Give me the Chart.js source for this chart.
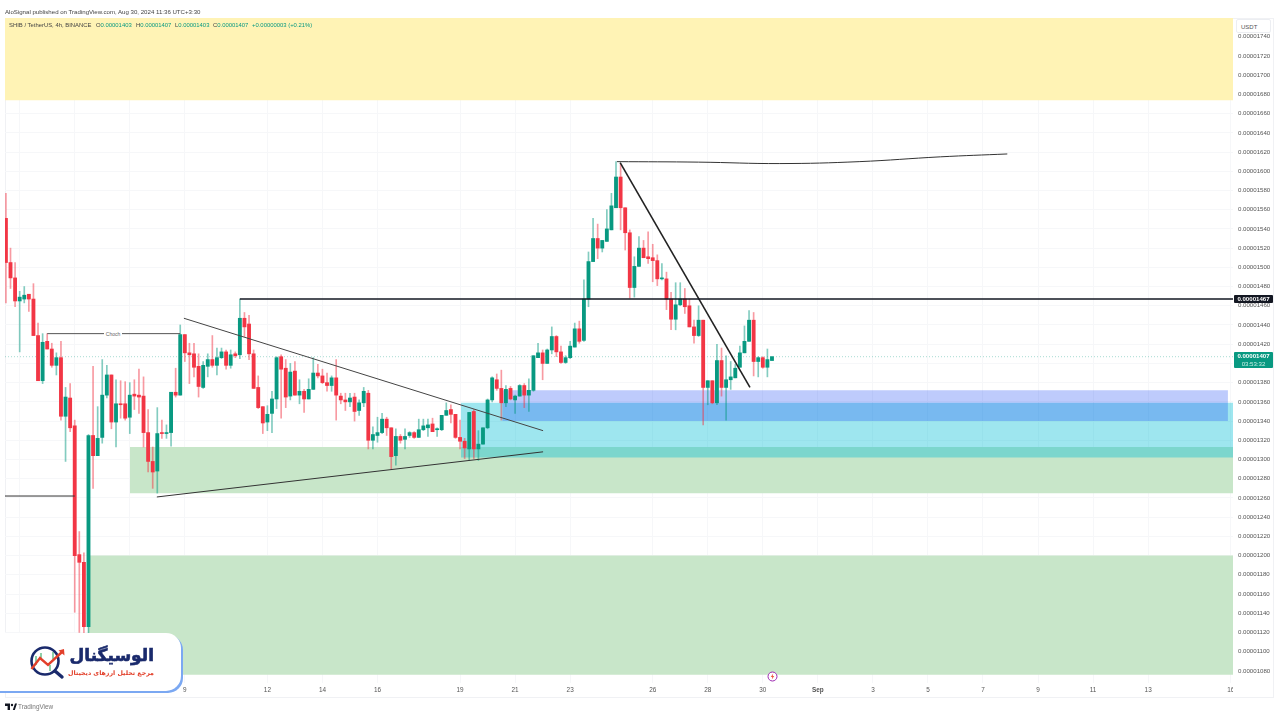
<!DOCTYPE html>
<html lang="en">
<head>
<meta charset="UTF-8">
<title>SHIB / TetherUS 4h</title>
<script src="https://cdn.jsdelivr.net/npm/chart.js"></script>
<style>
    body { margin: 0; background: #fff; font-family: "Liberation Sans", Arial, sans-serif; }
    #wrap { position: relative; width: 1280px; height: 720px; overflow: hidden; }
    #frame { position: absolute; left: 5px; top: 18px; width: 1267px; height: 678px; border: 1px solid #f0f1f4; }
    canvas { position: absolute; left: 0; top: 0; }
    .abs { position: absolute; white-space: nowrap; }
    #published { left: 5px; top: 8px; font-size: 6.1px; color: #444; }
    .legend { top: 22px; font-size: 5.9px; color: #444; }
    .legend b { font-weight: normal; color: #089981; }
    #choch { left: 104px; top: 331px; width: 18px; text-align: center; background: #fff; font-size: 5px; color: #666; line-height: 6px; }
    #usdt { left: 1236px; top: 19px; width: 35px; height: 14px; background: #fff; border: 1px solid #eceef2; border-radius: 2px; font-size: 6px; color: #555; line-height: 14px; box-sizing: border-box; padding-left: 4px; }
    #corner { left: 1233px; top: 684px; width: 40px; height: 12px; background: #fff; }
    .tag { left: 1234px; width: 39px; color: #fff; font-size: 6.1px; text-align: center; border-radius: 1px; }
    #tagLevel { top: 295px; height: 8px; line-height: 8px; background: #131722; font-weight: bold; }
    #tagLast { top: 352px; height: 16px; line-height: 8px; background: #089981; font-weight: bold; }
    #tagLast span { font-weight: normal; color: #c9efe6; display: block; }
    #bolt { left: 767px; top: 671px; }
    #logoBox { left: -6px; top: 633px; width: 187px; height: 58px; background: #fff; border-radius: 0 15px 15px 0; box-shadow: 2px 2px 0 #7ba8f2; }
    #logoIcon { left: 28px; top: 644px; }
    #logoName { left: 68px; top: 643px; width: 86px; text-align: right; direction: rtl; font: bold 17px "DejaVu Sans", sans-serif; color: #1a2a6c; line-height: 24px; -webkit-text-stroke: 0.6px #1a2a6c; }
    #logoSub { left: 66px; top: 667px; width: 88px; text-align: right; direction: rtl; font: bold 6.3px "DejaVu Sans", sans-serif; color: #e2402b; line-height: 11px; }
    #tvMark { left: 5px; top: 703px; }
    #tvText { left: 18px; top: 703px; font-size: 6.4px; color: #777; line-height: 8px; }
</style>
</head>
<body>
<div id="wrap">
    <div id="frame"></div>
    <canvas id="chart" width="1280" height="720"></canvas>

    <div class="abs" id="published">AloSignal published on TradingView.com, Aug 30, 2024 11:36 UTC+3:30</div>
    <div class="abs legend" style="left:9px">SHIB / TetherUS, 4h, BINANCE</div>
    <div class="abs legend" style="left:96px">O<b>0.00001403</b></div>
    <div class="abs legend" style="left:136px">H<b>0.00001407</b></div>
    <div class="abs legend" style="left:175px">L<b>0.00001403</b></div>
    <div class="abs legend" style="left:213px">C<b>0.00001407</b></div>
    <div class="abs legend" style="left:252px"><b>+0.00000003 (+0.21%)</b></div>

    <div class="abs" id="choch">Choch</div>
    <div class="abs" id="usdt">USDT</div>
    <div class="abs" id="corner"></div>
    <div class="abs tag" id="tagLevel">0.00001467</div>
    <div class="abs tag" id="tagLast">0.00001407<span>03:53:32</span></div>

    <svg class="abs" id="bolt" width="11" height="11" viewBox="0 0 11 11">
        <circle cx="5.5" cy="5.5" r="4.5" fill="#fff" stroke="#9c27b0" stroke-width="1"/>
        <path d="M6.2 2.5 L3.8 6 H5.3 L4.8 8.5 L7.2 5 H5.7 Z" fill="#f0503c"/>
    </svg>

    <div class="abs" id="logoBox"></div>
    <svg class="abs" id="logoIcon" width="40" height="38" viewBox="0 0 40 38">
        <path d="M8 12v9M13 9v6M22 21v6M25 8v7" stroke="#8fd0a8" stroke-width="2" fill="none"/>
        <circle cx="17" cy="17" r="13.5" fill="none" stroke="#1a2a6c" stroke-width="2.6"/>
        <path d="M27 27 L34 33" stroke="#1a2a6c" stroke-width="3.4" stroke-linecap="round"/>
        <path d="M3.5 25 L12 14 L20 21 L34 8" fill="none" stroke="#e2402b" stroke-width="2.4"/>
        <path d="M36 5 L36.5 11.5 L30.5 6.5 Z" fill="#e2402b"/>
    </svg>
    <div class="abs" id="logoName">الوسیگنال</div>
    <div class="abs" id="logoSub">مرجع تحلیل ارزهای دیجیتال</div>

    <svg class="abs" id="tvMark" width="12" height="8" viewBox="0 0 12 8">
        <path d="M0 0.5H5V7H2.6V3H0Z M7.8 7L10 0.5H12L9.8 7Z" fill="#131722"/>
        <circle cx="7" cy="2" r="1.2" fill="#131722"/>
    </svg>
    <div class="abs" id="tvText">TradingView</div>
</div>

<script>
    // Prices are in units of 0.00000001 USDT, candles are counted from the left edge (4h each)
    const candleOpen = [
        1551,1505,1489,1465,1467,1472,1467,1429,1382,1423,
        1415,1398,1406,1345,1364,1335,1201,1193,1126,1325,
        1304,1323,1367,1388,1339,1358,1358,1344,1368,1367,
        1366,1328,1298,1288,1328,1327,1328,1370,1367,1430,
        1411,1410,1397,1375,1397,1404,1398,1406,1412,1398,
        1410,1409,1447,1441,1410,1375,1355,1339,1348,1363,
        1407,1395,1366,1392,1367,1371,1363,1373,1390,1387,
        1380,1377,1385,1366,1362,1360,1365,1351,1359,1369,
        1320,1325,1328,1342,1333,1304,1324,1321,1325,1328,
        1323,1331,1333,1337,1331,1331,1346,1352,1347,1323,
        1319,1311,1350,1311,1316,1333,1362,1383,1374,1359,
        1374,1362,1366,1377,1367,1372,1406,1411,1400,1414,
        1428,1412,1401,1406,1417,1436,1424,1467,1506,1530,
        1520,1527,1539,1562,1594,1562,1536,1479,1501,1520,
        1511,1510,1507,1488,1488,1467,1446,1461,1467,1460,
        1438,1429,1445,1375,1382,1359,1403,1375,1383,1385,
        1396,1411,1423,1445,1402,1406,1396,1403
    ];
    const candleClose = [
        1505,1489,1465,1469,1471,1467,1429,1382,1422,1415,
        1398,1406,1345,1365,1333,1200,1193,1126,1325,1304,
        1322,1367,1388,1339,1358,1357,1343,1367,1366,1365,
        1328,1298,1287,1327,1327,1328,1370,1367,1430,1411,
        1409,1396,1376,1398,1404,1398,1406,1412,1398,1409,
        1408,1447,1438,1410,1374,1354,1338,1347,1363,1406,
        1394,1365,1391,1367,1371,1363,1373,1390,1387,1380,
        1377,1385,1367,1362,1360,1364,1350,1359,1371,1320,
        1326,1328,1342,1333,1303,1324,1320,1324,1328,1323,
        1331,1335,1336,1329,1332,1346,1351,1347,1323,1319,
        1312,1349,1311,1316,1333,1362,1385,1374,1359,1373,
        1363,1366,1377,1367,1372,1408,1411,1400,1414,1428,
        1412,1401,1406,1418,1436,1423,1467,1506,1530,1520,
        1528,1540,1564,1594,1562,1536,1479,1501,1520,1510,
        1509,1507,1488,1489,1467,1446,1461,1467,1459,1438,
        1429,1445,1375,1382,1359,1403,1375,1383,1386,1395,
        1411,1423,1445,1402,1406,1396,1404,1407
    ];
    const candleHigh = [
        1577,1520,1505,1475,1480,1472,1483,1442,1431,1431,
        1421,1411,1423,1375,1379,1341,1225,1203,1326,1397,
        1355,1404,1398,1388,1383,1382,1381,1380,1383,1394,
        1386,1352,1313,1354,1341,1336,1370,1395,1440,1430,
        1421,1421,1410,1402,1410,1429,1416,1416,1414,1414,
        1412,1467,1453,1450,1414,1387,1355,1356,1371,1407,
        1409,1404,1400,1402,1383,1373,1384,1406,1399,1394,
        1390,1387,1404,1369,1369,1369,1369,1362,1375,1372,
        1334,1344,1348,1344,1333,1332,1326,1332,1329,1329,
        1342,1342,1342,1343,1333,1346,1359,1357,1347,1341,
        1322,1349,1352,1330,1333,1363,1386,1389,1393,1377,
        1376,1367,1378,1379,1384,1408,1421,1414,1415,1438,
        1429,1418,1408,1423,1442,1444,1487,1516,1551,1545,
        1528,1560,1577,1610,1607,1562,1539,1511,1532,1528,
        1537,1524,1513,1504,1495,1474,1484,1484,1478,1467,
        1445,1460,1445,1382,1382,1420,1416,1408,1402,1399,
        1418,1439,1455,1453,1407,1407,1415,1407
    ];
    const candleLow = [
        1463,1478,1459,1412,1463,1454,1429,1382,1379,1415,
        1396,1388,1341,1298,1329,1141,1120,1115,1118,1270,
        1304,1317,1364,1332,1313,1343,1341,1327,1352,1348,
        1313,1287,1270,1265,1322,1322,1314,1365,1367,1402,
        1379,1386,1365,1374,1386,1396,1388,1405,1394,1395,
        1406,1405,1428,1404,1374,1353,1327,1330,1328,1353,
        1343,1354,1362,1367,1358,1349,1363,1373,1385,1379,
        1371,1371,1341,1358,1351,1355,1340,1346,1355,1311,
        1311,1318,1327,1325,1290,1294,1317,1311,1323,1322,
        1323,1330,1324,1329,1324,1330,1346,1338,1322,1311,
        1301,1299,1301,1299,1316,1332,1360,1372,1341,1355,
        1362,1348,1366,1354,1350,1371,1406,1383,1400,1410,
        1407,1400,1400,1405,1417,1421,1423,1459,1506,1509,
        1516,1527,1539,1562,1539,1518,1468,1469,1501,1510,
        1504,1485,1481,1487,1456,1435,1435,1460,1452,1438,
        1421,1428,1336,1357,1358,1357,1366,1341,1373,1385,
        1396,1411,1423,1387,1386,1395,1386,1403
    ];

    const tickIndex = [3,15,27,39,57,69,81,99,111,123,141,153,165,177,189,201,213,225,237,249,267];
    const tickLabels = ['3','5','7','9','12','14','16','19','21','23','26','28','30','Sep','3','5','7','9','11','13','16'];

    // Shaded zones: first candle, last candle, top price, bottom price
    const zoneSupply = [-0.2, 267.5, 1760, 1674];
    const zoneGreenUpper = [27.05, 267.5, 1313, 1265];
    const zoneGreenLower = [17.9, 267.5, 1200, 1076];
    const zoneCyan = [99.2, 267.5, 1359, 1302];
    const zoneBlue = [108.2, 266.4, 1372, 1340];

    // Drawn lines: [candle, price] points
    const levelLine = [[51, 1467], [267.5, 1467]];
    const chochLine = [[9, 1431], [38, 1431]];
    const leftLine = [[-0.2, 1262], [15, 1262]];
    const fallingLine = [[38.8, 1447], [117.1, 1330]];
    const risingLine = [[32.9, 1261], [117.1, 1308]];
    const steepLine = [[133.9, 1609], [162.2, 1375]];
    const curveLine = [[133.2, 1610], [151, 1609.5], [168.7, 1608], [186, 1610], [203.7, 1615], [218.3, 1618]];
    const lastPrice = [[-0.2, 1407], [267.5, 1407]];

    const upColor = '#089981';
    const downColor = '#f23645';

    // higher order is painted first, so green sits under cyan and cyan under blue
    const zoneDataset = (zone, color, order) => ({
        type: 'line',
        data: [{x: zone[0], y: zone[2]}, {x: zone[1], y: zone[2]}],
        borderWidth: 0,
        pointRadius: 0,
        backgroundColor: color,
        fill: {value: zone[3]},
        order: order
    });

    const lineDataset = (points, color, width, extra) => Object.assign({
        type: 'line',
        data: points.map(p => ({x: p[0], y: p[1]})),
        borderColor: color,
        borderWidth: width,
        pointRadius: 0,
        fill: false,
        order: 1
    }, extra);

    const isUp = i => candleClose[i] >= candleOpen[i];

    new Chart(document.getElementById('chart').getContext('2d'), {
        type: 'bar',
        data: {
            datasets: [
                zoneDataset(zoneSupply, '#fff3b5', 14),
                zoneDataset(zoneGreenUpper, '#c8e6c9', 14),
                zoneDataset(zoneGreenLower, '#c8e6c9', 14),
                zoneDataset(zoneCyan, 'rgba(0, 188, 212, 0.38)', 12),
                zoneDataset(zoneBlue, 'rgba(20, 70, 245, 0.28)', 11),
                {
                    // wicks
                    data: candleLow.map((low, i) => ({x: i, y: [low, candleHigh[i]]})),
                    backgroundColor: candleLow.map((low, i) => isUp(i) ? 'rgba(8, 153, 129, 0.5)' : 'rgba(242, 54, 69, 0.5)'),
                    barThickness: 1,
                    grouped: false,
                    order: 5
                },
                {
                    // bodies
                    data: candleOpen.map((open, i) => ({x: i, y: [open, candleClose[i]]})),
                    backgroundColor: candleOpen.map((open, i) => isUp(i) ? upColor : downColor),
                    barThickness: 3.2,
                    minBarLength: 1,
                    grouped: false,
                    order: 4
                },
                lineDataset(lastPrice, 'rgba(8, 153, 129, 0.35)', 1, {borderDash: [1, 2], order: 6}),
                lineDataset(levelLine, '#131722', 1.6),
                lineDataset(chochLine, '#555', 1),
                lineDataset(leftLine, '#333', 1),
                lineDataset(fallingLine, '#444', 1),
                lineDataset(risingLine, '#333', 1),
                lineDataset(steepLine, '#222', 1.6),
                lineDataset(curveLine, '#333', 1, {tension: 0.4})
            ]
        },
        options: {
            responsive: false,
            animation: false,
            layout: {padding: {left: 5, top: 18}},
            plugins: {legend: {display: false}, tooltip: {enabled: false}},
            scales: {
                x: {
                    type: 'linear',
                    min: -0.2,
                    max: 267.5,
                    offset: false,
                    grid: {offset: false, color: '#f6f7f9', drawTicks: false},
                    border: {display: false},
                    afterFit: scale => { scale.height = 37; },
                    afterBuildTicks: scale => { scale.ticks = tickIndex.map(v => ({value: v})); },
                    ticks: {
                        autoSkip: false,
                        maxRotation: 0,
                        padding: 3,
                        color: '#555',
                        font: ctx => ({size: 6.4, weight: ctx.tick && ctx.tick.label === 'Sep' ? 'bold' : 'normal', family: '"Liberation Sans", Arial, sans-serif'}),
                        callback: value => tickLabels[tickIndex.indexOf(value)]
                    }
                },
                y: {
                    position: 'right',
                    min: 1067.4,
                    max: 1759.5,
                    beginAtZero: false,
                    grid: {color: '#f6f7f9', drawTicks: false},
                    border: {display: false},
                    afterFit: scale => { scale.width = 47; },
                    ticks: {
                        stepSize: 20,
                        includeBounds: false,
                        autoSkip: false,
                        padding: 5,
                        color: '#555',
                        font: {size: 6.1, family: '"Liberation Sans", Arial, sans-serif'},
                        callback: value => (value / 1e8).toFixed(8)
                    }
                }
            }
        }
    });
</script>
</body>
</html>
